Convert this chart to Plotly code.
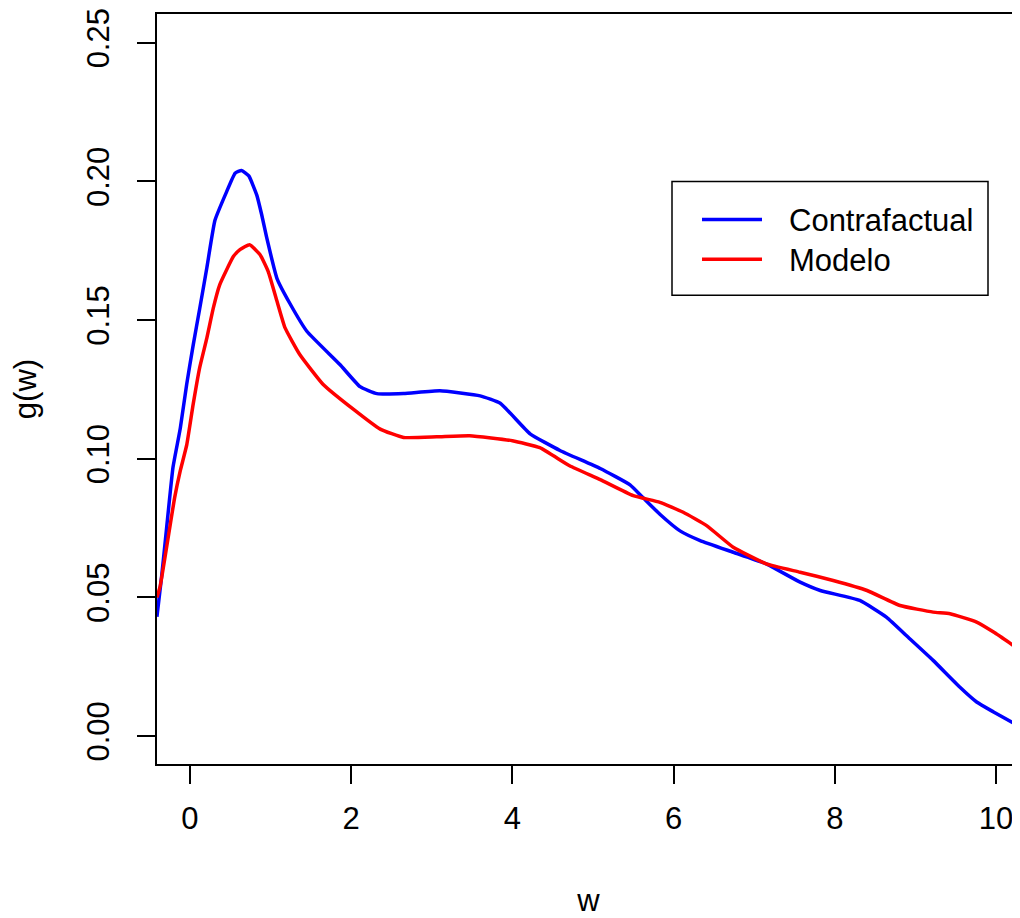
import plotly.graph_objects as go

# Contrafactual (blue) density estimate
w_contra = [-0.41, -0.35, -0.29, -0.21, -0.12, -0.04, 0.04, 0.12, 0.21, 0.31, 0.45, 0.56, 0.64,
            0.73, 0.83, 0.89, 0.95, 1.08, 1.24, 1.45, 1.86, 2.11, 2.32, 2.65, 3.10, 3.60, 3.85,
            4.22, 4.59, 5.09, 5.46, 5.62, 5.83, 6.08, 6.33, 6.74, 7.15, 7.57, 7.82, 8.31, 8.64,
            8.93, 9.22, 9.55, 9.76, 9.97, 10.30]
g_contra = [0.043, 0.058, 0.075, 0.097, 0.111, 0.127, 0.141, 0.154, 0.169, 0.186, 0.196, 0.203, 0.204,
            0.202, 0.195, 0.188, 0.180, 0.165, 0.156, 0.146, 0.134, 0.126, 0.1235, 0.1235, 0.1245, 0.1227, 0.120,
            0.109, 0.103, 0.0965, 0.0906, 0.086, 0.080, 0.074, 0.0705, 0.0663, 0.0621, 0.0555, 0.0525, 0.0489, 0.0429,
            0.0351, 0.0273, 0.0177, 0.0123, 0.0087, 0.0033]

# Modelo (red)
w_modelo = [-0.41, -0.37, -0.19, -0.12, -0.04, 0.04, 0.12, 0.21, 0.29, 0.37, 0.54, 0.62, 0.74,
            0.87, 0.97, 1.08, 1.18, 1.36, 1.65, 2.03, 2.36, 2.65, 3.06, 3.47, 4.00, 4.34, 4.71,
            5.09, 5.50, 5.83, 6.12, 6.41, 6.74, 7.15, 7.57, 7.98, 8.40, 8.81, 9.22, 9.43, 9.76,
            9.97, 10.30]
g_modelo = [0.050, 0.054, 0.086, 0.0957, 0.105, 0.1197, 0.1328, 0.1436, 0.1544, 0.1628, 0.173, 0.1754, 0.1772,
            0.1736, 0.1676, 0.1568, 0.1472, 0.1377, 0.1269, 0.1178, 0.1107, 0.1077, 0.1079, 0.1083, 0.1065, 0.104, 0.0975,
            0.0925, 0.0867, 0.0843, 0.0807, 0.0759, 0.0681, 0.0621, 0.0591, 0.0561, 0.0525, 0.0471, 0.0447, 0.0441, 0.0411,
            0.0375, 0.031]

x_ticks = [0, 2, 4, 6, 8, 10]
y_ticks = [0.00, 0.05, 0.10, 0.15, 0.20, 0.25]
series_names = ["Contrafactual", "Modelo"]
series_colors = ["#0000FF", "#FF0000"]

FONT = "Liberation Sans, Arial, sans-serif"
FS = 31
OFF = 8  # page body margin offset

fig = go.Figure()
fig.add_trace(go.Scatter(x=w_contra, y=g_contra, mode="lines", name=series_names[0],
                         line=dict(color=series_colors[0], width=3.5, shape="spline", smoothing=0.4)))
fig.add_trace(go.Scatter(x=w_modelo, y=g_modelo, mode="lines", name=series_names[1],
                         line=dict(color=series_colors[1], width=3.5, shape="spline", smoothing=0.4)))

W, H = 1020 - OFF, 918 - OFF
ml, mr, mt, mb = 157 - OFF, 0, 12 - OFF, 154
pw, ph = W - ml - mr, H - mt - mb


def px(x):
    return (x - OFF - ml) / pw


def py(y):
    return 1 - (y - OFF - mt) / ph


# legend drawn as a boxed key (screen coords of the reference)
L, T, R, B = 672, 180, 988, 294
fig.add_shape(type="rect", xref="paper", yref="paper", x0=px(L), x1=px(R), y0=py(B), y1=py(T),
              line=dict(color="black", width=1.5), fillcolor="white", layer="above")
for i, (nm, col) in enumerate(zip(series_names, series_colors)):
    yy = 218 + 40 * i
    fig.add_shape(type="line", xref="paper", yref="paper", x0=px(702), x1=px(762), y0=py(yy), y1=py(yy),
                  line=dict(color=col, width=3.5), layer="above")
    fig.add_annotation(xref="paper", yref="paper", x=px(787), y=py(yy + 1), text=nm, showarrow=False,
                       xanchor="left", yanchor="middle", font=dict(family=FONT, size=FS, color="black"))

fig.update_layout(
    width=W, height=H,
    margin=dict(l=ml, r=mr, t=mt, b=mb),
    plot_bgcolor="white", paper_bgcolor="white",
    showlegend=False,
    font=dict(family=FONT, size=FS, color="black"),
)
fig.update_xaxes(
    range=[-0.409, 10.298], tickvals=x_ticks, ticktext=[str(v) for v in x_ticks],
    showgrid=False, zeroline=False, showline=True, linecolor="black", linewidth=1.5, mirror=True,
    ticks="outside", ticklen=18, tickwidth=1.5, tickcolor="black", ticklabeloverflow="allow",
    tickfont=dict(family=FONT, size=FS), ticklabelstandoff=8,
    title=dict(text="w", font=dict(family=FONT, size=FS), standoff=57),
)
fig.update_yaxes(
    range=[-0.01007, 0.2604], tickvals=y_ticks, ticktext=[f"{v:.2f}" for v in y_ticks],
    showgrid=False, zeroline=False, showline=True, linecolor="black", linewidth=1.5,
    ticks="outside", ticklen=18, tickwidth=1.5, tickcolor="black", tickangle=-90,
    ticklabeloverflow="allow",
    tickfont=dict(family=FONT, size=FS), ticklabelstandoff=16,
    title=dict(text="g(w)", font=dict(family=FONT, size=FS), standoff=36),
)

fig.write_html("out.html")
